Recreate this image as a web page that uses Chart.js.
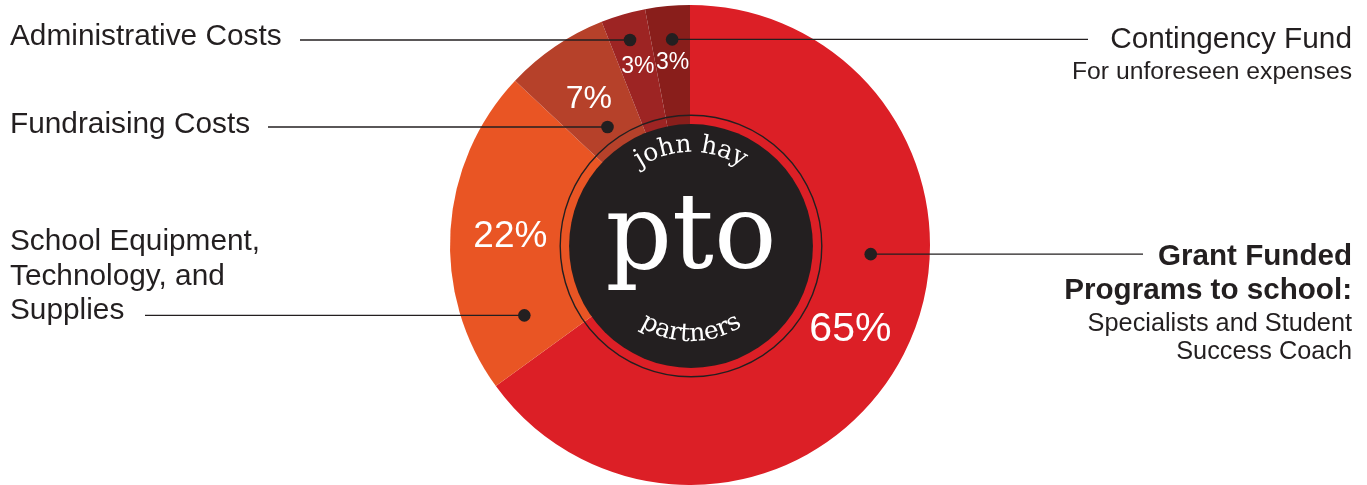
<!DOCTYPE html>
<html>
<head>
<meta charset="utf-8">
<script src="https://cdn.jsdelivr.net/npm/chart.js@4.4.1/dist/chart.umd.min.js"></script>
<style>
html,body{margin:0;padding:0;background:#ffffff;}
canvas{display:block;}
</style>
</head>
<body>
<canvas id="c" width="1367" height="485"></canvas>
<script>
// ---- data ----
const categories = ['Grant Funded Programs to school', 'School Equipment, Technology, and Supplies', 'Fundraising Costs', 'Administrative Costs', 'Contingency Fund'];
const shares = [65, 22, 7, 3, 3];
const valueLabels = ['65%', '22%', '7%', '3%', '3%'];
const sliceColors = ['#DC1F26', '#E95524', '#B6412A', '#9D2423', '#891E1B'];
const leftTitles = [['Administrative Costs'], ['Fundraising Costs'], ['School Equipment,', 'Technology, and', 'Supplies']];
const rightTitles = [['Contingency Fund'], ['Grant Funded', 'Programs to school:']];
const rightSubtitles = [['For unforeseen expenses'], ['Specialists and Student', 'Success Coach']];
const centerTop = 'john hay';
const centerMain = 'pto';
const centerBottom = 'partners';

const INK = '#231F20';
const SANS = '"Liberation Sans", Arial, Helvetica, sans-serif';
const SERIF = '"DejaVu Serif", serif';

function arcPoint(el, frac, rfrac) {
  const a = el.startAngle + frac * (el.endAngle - el.startAngle);
  const r = rfrac * el.outerRadius;
  return {x: el.x + r * Math.cos(a), y: el.y + r * Math.sin(a)};
}

function arcText(ctx, text, cx, cy, r, top) {
  let total = 0;
  const widths = [];
  for (const ch of text) { const w = ctx.measureText(ch).width; widths.push(w); total += w; }
  const span = total / r;
  let cum = 0;
  ctx.textAlign = 'center';
  ctx.textBaseline = 'alphabetic';
  let i = 0;
  for (const ch of text) {
    const w = widths[i++];
    let a;
    ctx.save();
    if (top) {
      a = -Math.PI / 2 - span / 2 + (cum + w / 2) / r;
      ctx.translate(cx + r * Math.cos(a), cy + r * Math.sin(a));
      ctx.rotate(a + Math.PI / 2);
    } else {
      a = Math.PI / 2 + span / 2 - (cum + w / 2) / r;
      ctx.translate(cx + r * Math.cos(a), cy + r * Math.sin(a));
      ctx.rotate(a - Math.PI / 2);
    }
    ctx.fillText(ch, 0, 0);
    ctx.restore();
    cum += w;
  }
}

const decor = {
  id: 'decor',
  afterDatasetsDraw(chart) {
    const ctx = chart.ctx;
    const meta = chart.getDatasetMeta(0);
    const els = meta.data;
    const cx = els[0].x, cy = els[0].y, R = els[0].outerRadius;

    // center badge
    ctx.save();
    ctx.strokeStyle = INK;
    ctx.lineWidth = 1.4;
    ctx.beginPath(); ctx.arc(cx + 1, cy + 1, R * 0.545, 0, Math.PI * 2); ctx.stroke();
    ctx.fillStyle = INK;
    ctx.beginPath(); ctx.arc(cx + 1, cy + 1, R * 0.508, 0, Math.PI * 2); ctx.fill();
    ctx.fillStyle = '#ffffff';
    ctx.font = '104px ' + SERIF;
    ctx.textAlign = 'center';
    ctx.textBaseline = 'alphabetic';
    ctx.fillText(centerMain, cx + 1, cy + 23);
    ctx.font = '25px ' + SERIF;
    arcText(ctx, centerTop, cx + 1, cy + 1, 94, true);
    arcText(ctx, centerBottom, cx + 1, cy + 1, 95, false);
    ctx.restore();

    // value labels
    const labelSizes = [41, 37, 32, 23, 23];
    const labelR = [0.75, 0.75, 0.75, 0.78, 0.77];
    ctx.save();
    ctx.fillStyle = '#ffffff';
    ctx.textAlign = 'center';
    ctx.textBaseline = 'alphabetic';
    els.forEach((el, i) => {
      const p = arcPoint(el, 0.5, labelR[i]);
      ctx.font = labelSizes[i] + 'px ' + SANS;
      ctx.fillText(valueLabels[i], p.x, p.y + labelSizes[i] * 0.716 / 2);
    });
    ctx.restore();

    // leader dots (slice index, fraction along slice, radius fraction)
    const dotSpec = [[0, 0.397, 0.754], [1, 0.164, 0.75], [2, 0.47, 0.6], [3, 0.49, 0.89], [4, 0.54, 0.86]];
    const dots = {};
    dotSpec.forEach(([i, f, rf]) => { dots[i] = arcPoint(els[i], f, rf); });

    ctx.save();
    ctx.strokeStyle = INK;
    ctx.fillStyle = INK;
    ctx.lineWidth = 1.3;
    const leftLineStart = {3: 300, 2: 268, 1: 145};
    [3, 2, 1].forEach(i => {
      ctx.beginPath(); ctx.moveTo(leftLineStart[i], dots[i].y); ctx.lineTo(dots[i].x, dots[i].y); ctx.stroke();
    });
    const rightLineEnd = {4: 1088, 0: 1143};
    [4, 0].forEach(i => {
      ctx.beginPath(); ctx.moveTo(dots[i].x, dots[i].y); ctx.lineTo(rightLineEnd[i], dots[i].y); ctx.stroke();
    });
    Object.values(dots).forEach(p => { ctx.beginPath(); ctx.arc(p.x, p.y, 6.3, 0, Math.PI * 2); ctx.fill(); });

    // left titles
    ctx.textAlign = 'left';
    ctx.textBaseline = 'alphabetic';
    ctx.font = '29.8px ' + SANS;
    const leftBase = [45, 133, 250];
    leftTitles.forEach((lines, k) => {
      lines.forEach((t, j) => ctx.fillText(t, 10, leftBase[k] + j * 34.5));
    });
    // right titles
    ctx.textAlign = 'right';
    ctx.font = '29.8px ' + SANS;
    ctx.fillText(rightTitles[0][0], 1352, 48);
    ctx.font = '24.7px ' + SANS;
    ctx.fillText(rightSubtitles[0][0], 1352, 79);
    ctx.font = 'bold 29.6px ' + SANS;
    rightTitles[1].forEach((t, j) => ctx.fillText(t, 1352, 265 + j * 34));
    ctx.font = '25.3px ' + SANS;
    rightSubtitles[1].forEach((t, j) => ctx.fillText(t, 1352, 331 + j * 28));
    ctx.restore();
  }
};

new Chart(document.getElementById('c'), {
  type: 'pie',
  data: {
    labels: categories,
    datasets: [{
      data: shares,
      backgroundColor: sliceColors,
      borderWidth: 0,
      hoverOffset: 0
    }]
  },
  options: {
    responsive: false,
    animation: false,
    events: [],
    layout: {padding: {left: 13, right: 0, top: 5, bottom: 0}},
    plugins: {legend: {display: false}, tooltip: {enabled: false}}
  },
  plugins: [decor]
});
</script>
</body>
</html>
